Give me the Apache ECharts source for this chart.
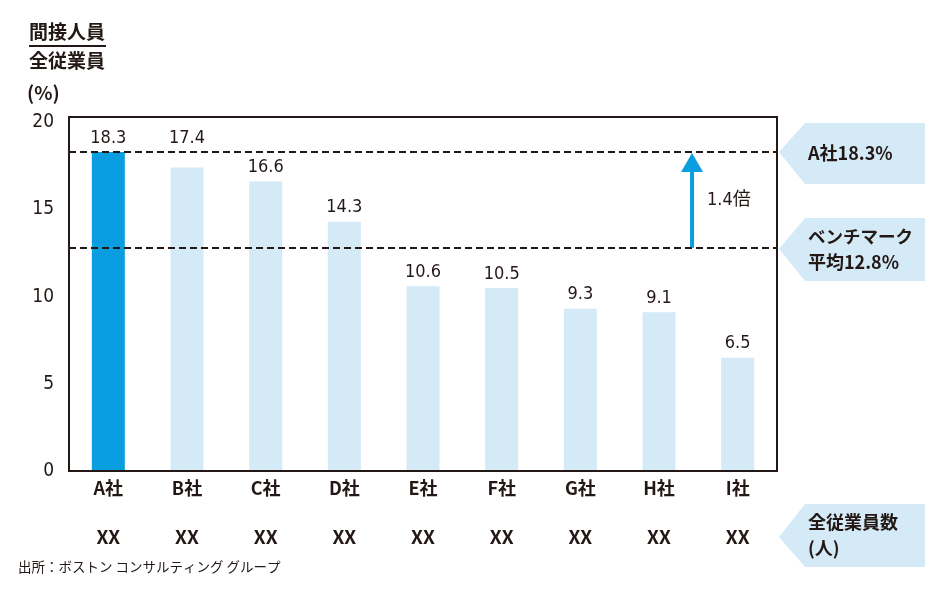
<!DOCTYPE html>
<html>
<head>
<meta charset="utf-8">
<script src="https://cdn.jsdelivr.net/npm/echarts@6/dist/echarts.min.js"></script>
<style>
  html, body { margin: 0; padding: 0; background: #fff; }
  #chart { width: 952px; height: 604px; }
</style>
</head>
<body>
<div id="chart"></div>
<script>
// データ
const companies = ['A社', 'B社', 'C社', 'D社', 'E社', 'F社', 'G社', 'H社', 'I社']
const ratios = [18.3, 17.4, 16.6, 14.3, 10.6, 10.5, 9.3, 9.1, 6.5]
const employees = ['XX', 'XX', 'XX', 'XX', 'XX', 'XX', 'XX', 'XX', 'XX']
const companyA = 18.3
const benchmark = 12.8
const ratioText = '1.4倍'

const ink = '#231815'
const blue = '#0a9de0'
const pale = '#d4eaf7'
const jp = '"Noto Sans CJK JP", sans-serif'
const narrow = '"Liberation Sans Narrow", "DejaVu Sans Condensed", "Noto Sans CJK JP", sans-serif'

const chart = echarts.init(document.getElementById('chart'))

// 右側の吹き出し
const callout = (top, bottom, tipY) => ({
  type: 'polygon',
  shape: { points: [[779, tipY], [805, top], [925, top], [925, bottom], [805, bottom]] },
  style: { fill: pale }
})
const txt = (x, y, text, size, font) => ({
  type: 'text', x, y,
  style: { text, fill: ink, fontSize: size, fontFamily: font || jp, fontWeight: 'bold', verticalAlign: 'middle' }
})

chart.setOption({
  animation: false,
  grid: {
    left: 69, right: 175, top: 117, bottom: 133,
    show: true, borderColor: ink, borderWidth: 2, backgroundColor: 'transparent'
  },
  xAxis: [
    {
      type: 'category',
      data: companies,
      z: 5,
      axisLine: { lineStyle: { color: ink, width: 2 } },
      axisTick: { show: false },
      axisLabel: { color: ink, fontSize: 18, fontWeight: 'bold', fontFamily: jp, margin: 8 }
    },
    {
      type: 'category',
      data: employees,
      position: 'bottom',
      offset: 47,
      axisLine: { show: false },
      axisTick: { show: false },
      axisLabel: { color: ink, fontSize: 19, fontWeight: 'bold', fontFamily: jp, margin: 9 }
    }
  ],
  yAxis: {
    type: 'value',
    min: 0,
    max: 20.3,
    interval: 5,
    z: 5,
    axisLine: { show: true, lineStyle: { color: ink, width: 2 } },
    axisTick: { show: false },
    splitLine: { show: false },
    axisLabel: {
      color: ink, fontSize: 19, fontFamily: narrow, margin: 15,
      padding: [0, 0, 14, 0],
      formatter: v => (v % 5 === 0 ? String(v) : '')
    }
  },
  series: [
    {
      // 点線（A社・ベンチマーク）
      type: 'scatter',
      data: [],
      z: 1,
      markLine: {
        silent: true,
        symbol: 'none',
        label: { show: false },
        lineStyle: { color: ink, type: [7, 4], width: 2 },
        data: [{ yAxis: companyA }, { yAxis: benchmark }]
      }
    },
    {
      type: 'bar',
      z: 2,
      barWidth: 33,
      data: ratios.map((v, i) => ({
        value: v,
        itemStyle: { color: i === 0 ? blue : pale },
        // B社のラベルは点線の上に逃がす
        label: i === 1 ? { distance: 20 } : undefined
      })),
      label: {
        show: true,
        position: 'top',
        distance: 5,
        color: ink,
        fontSize: 18,
        fontFamily: narrow,
        formatter: p => p.value.toFixed(1)
      }
    },
    {
      // 矢印と倍率
      type: 'custom',
      z: 3,
      data: [[companies[7], benchmark, companyA]],
      encode: { x: 0, y: [1, 2] },
      renderItem: (params, api) => {
        const band = api.size([1, 0])[0]
        const x = api.coord([api.value(0), 0])[0] + band * 0.42
        const y0 = api.coord([api.value(0), api.value(1)])[1]
        const y1 = api.coord([api.value(0), api.value(2)])[1]
        return {
          type: 'group',
          children: [
            { type: 'line', shape: { x1: x, y1: y0, x2: x, y2: y1 + 18 }, style: { stroke: blue, lineWidth: 4 } },
            { type: 'polygon', shape: { points: [[x, y1 + 1], [x - 11, y1 + 20], [x + 11, y1 + 20]] }, style: { fill: blue } },
            { type: 'text', x: x + 15, y: (y0 + y1) / 2, style: { text: ratioText, fill: ink, fontSize: 18, fontFamily: narrow, verticalAlign: 'middle' } }
          ]
        }
      }
    }
  ],
  graphic: [
    txt(29, 32, '間接人員', 19),
    { type: 'line', shape: { x1: 29, y1: 46, x2: 106, y2: 46 }, style: { stroke: ink, lineWidth: 2 } },
    txt(29, 61, '全従業員', 19),
    txt(27, 93, '(%)', 19),
    callout(123, 184, 152),
    txt(808, 153, 'A社18.3%', 18),
    callout(218, 281, 249),
    txt(808, 236, 'ベンチマーク', 17.5),
    txt(808, 262, '平均12.8%', 18),
    callout(504, 567, 537),
    txt(808, 522, '全従業員数', 18),
    txt(808, 548, '(人)', 18),
    {
      type: 'text', x: 18, y: 567,
      style: { text: '出所：ボストン コンサルティング グループ', fill: ink, fontSize: 13.5, fontFamily: jp, verticalAlign: 'middle' }
    }
  ]
})
</script>
</body>
</html>
